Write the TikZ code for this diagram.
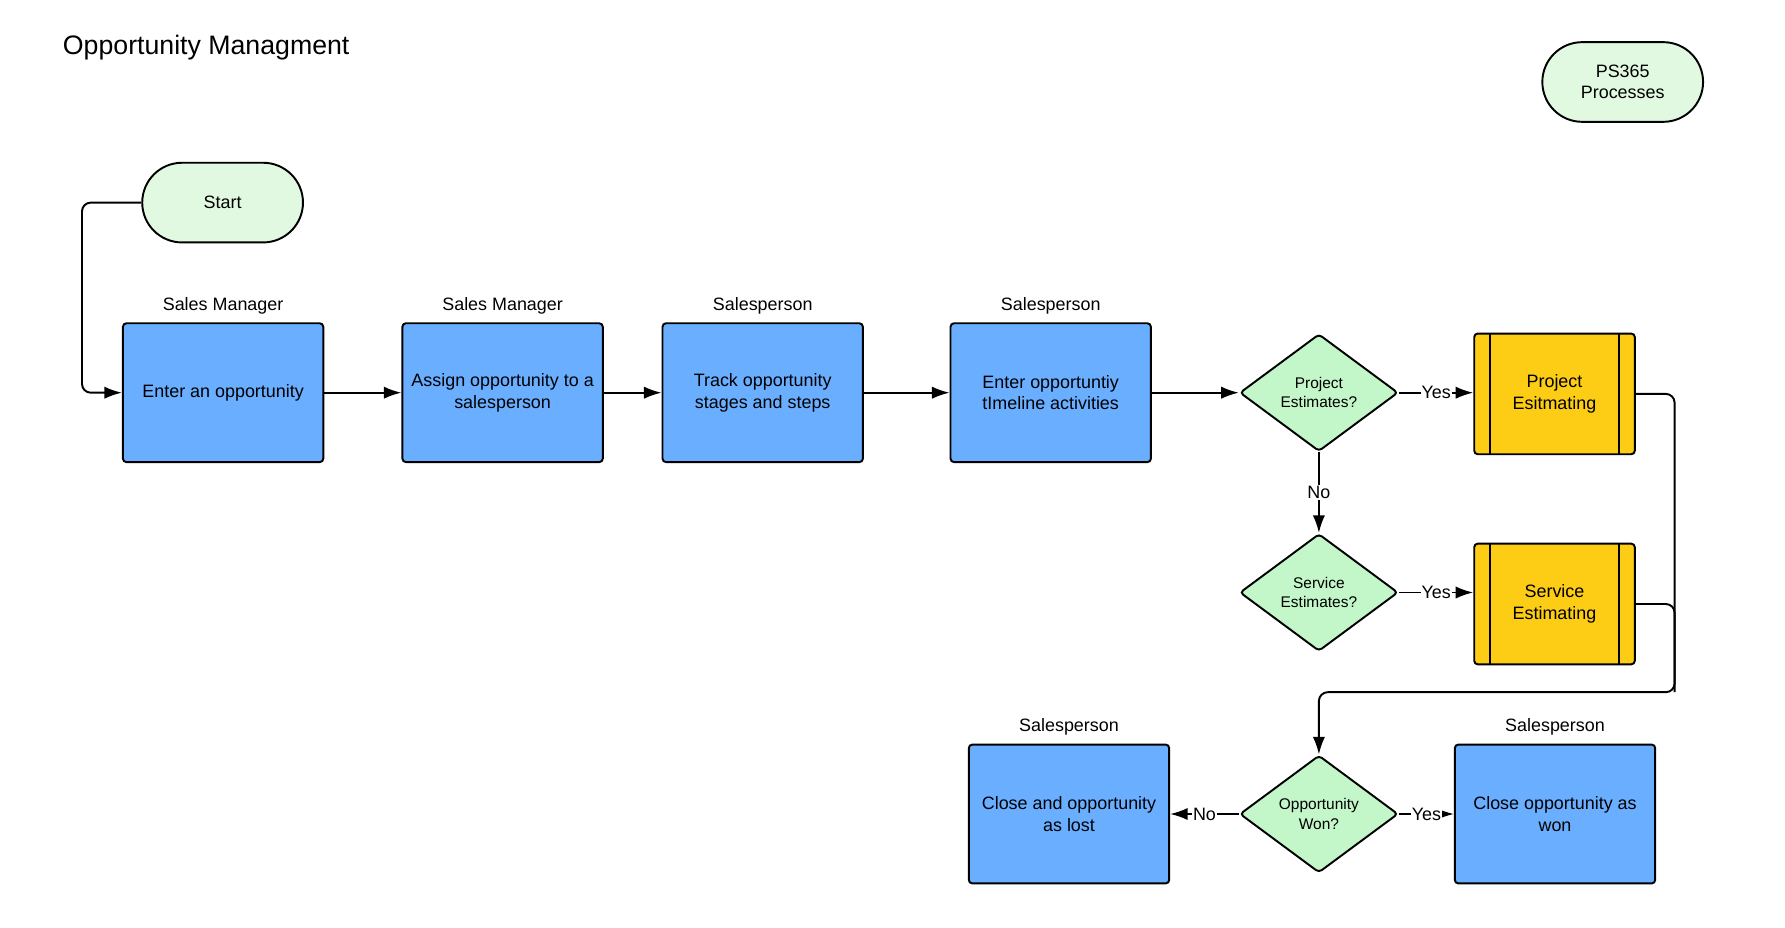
\documentclass[tikz,border=0pt]{standalone}
\usepackage{fontspec}
\setmainfont{Liberation Sans}
\usepackage{xcolor}
\usepackage{tikz}
\usetikzlibrary{arrows.meta, positioning, shapes.geometric, shapes.misc}

\definecolor{boxblue}{HTML}{6AAEFF}
\definecolor{procyellow}{HTML}{FCCD14}
\definecolor{decgreen}{HTML}{C3F6C8}
\definecolor{termgreen}{HTML}{E1F9E1}

\begin{document}
\begin{tikzpicture}[
  x=0.02cm, y=-0.02cm,
  every node/.style={font=\fontsize{10.2}{12.3}\selectfont},
  box/.style={draw, line width=1.1pt, rounded corners=2pt, fill=boxblue, minimum width=4.008cm, minimum height=2.778cm, align=center},
  term/.style={draw, line width=1.1pt, rounded rectangle, fill=termgreen, minimum width=3.45cm, minimum height=1.594cm, align=center},
  dec/.style={draw, line width=1.1pt, diamond, rounded corners=2pt, fill=decgreen, minimum width=3.166cm, minimum height=2.346cm, inner sep=0pt, align=center, font=\fontsize{8.8}{11}\selectfont},
  subproc/.style={draw, line width=1.1pt, rounded corners=2pt, fill=procyellow, minimum width=3.212cm, minimum height=2.414cm, align=center,
    path picture={\draw[line width=1.1pt] ([xshift=0.32cm]path picture bounding box.north west) -- ([xshift=0.32cm]path picture bounding box.south west)
      ([xshift=-0.32cm]path picture bounding box.north east) -- ([xshift=-0.32cm]path picture bounding box.south east);}},
  role/.style={inner sep=0pt},
  ans/.style={fill=white, inner sep=0.5pt},
  arrow/.style={-{Latex[length=10pt,width=7pt]}, line width=1.1pt}
]
\useasboundingbox (0,0) rectangle (1785,928);

% Nodes
\node[inner sep=0pt, anchor=west, font=\fontsize{15.2}{18}\selectfont] (title) at (62.6,47.5) {Opportunity Managment};
\node[term] (ps) at (1622.7,82) {PS365\\Processes};
\node[term] (start) at (222.6,202.6) {Start};

\node[box] (n1) at (223.1,392.7) {Enter an opportunity};
\node[box] (n2) at (502.6,392.7) {Assign opportunity to a\\salesperson};
\node[box] (n3) at (762.7,392.7) {Track opportunity\\stages and steps};
\node[box] (n4) at (1050.7,392.7) {Enter opportuntiy\\tImeline activities};

\node[role] (r1) at (223.1,306) {Sales Manager};
\node[role] (r2) at (502.6,306) {Sales Manager};
\node[role] (r3) at (762.7,306) {Salesperson};
\node[role] (r4) at (1050.7,306) {Salesperson};

\node[dec] (d1) at (1318.9,392.7) {Project\\Estimates?};
\node[dec] (d2) at (1318.9,592.5) {Service\\Estimates?};
\node[dec] (d3) at (1318.9,814) {Opportunity\\Won?};

\node[subproc] (p1) at (1554.5,393.9) {Project\\Esitmating};
\node[subproc] (p2) at (1554.5,604) {Service\\Estimating};

\node[box] (lost) at (1069,814) {Close and opportunity\\as lost};
\node[box] (won) at (1555,814) {Close opportunity as\\won};
\node[role] (r5) at (1069,727) {Salesperson};
\node[role] (r6) at (1555,727) {Salesperson};

\coordinate (c0) at (82,392.7);
\coordinate (c1) at (1674.6,692.2);

% Pointers
\draw[arrow, rounded corners=5pt] (start.west) -| (c0) -- (n1.west);
\draw[arrow] (n1) -- (n2);
\draw[arrow] (n2) -- (n3);
\draw[arrow] (n3) -- (n4);
\draw[arrow] (n4.east) -- (d1.west);
\draw[arrow] (d1.east) -- node[ans] {Yes} (p1.west |- d1.east);
\draw[arrow] (d1.south) -- node[ans] {No} (d2.north);
\draw[arrow] (d2.east) -- node[ans] {Yes} (p2.west |- d2.east);
\draw[line width=1.1pt, rounded corners=5pt] (p2.east) -| (c1);
\draw[arrow, rounded corners=5pt] (p1.east) -| (c1) -| (d3.north);
\draw[arrow] (d3.west) -- node[ans] {No} (lost.east |- d3.west);
\draw[arrow] (d3.east) -- node[ans] {Yes} (won.west |- d3.east);

\end{tikzpicture}
\end{document}
